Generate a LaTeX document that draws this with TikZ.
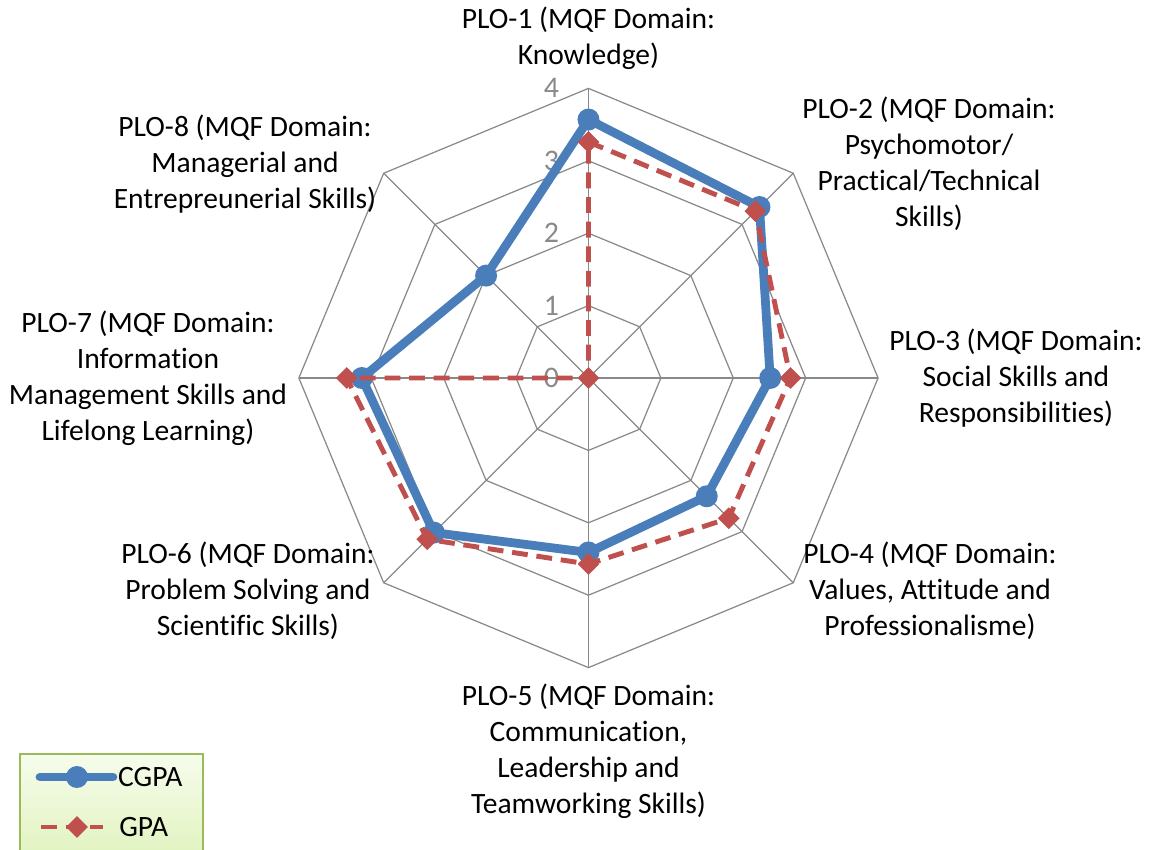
\documentclass[tikz,border=0pt]{standalone}
\usepackage{fontspec}
\setmainfont{Carlito}[Ligatures=NoCommon]
\usetikzlibrary{shapes.geometric}

\definecolor{gridgray}{HTML}{898989}
\definecolor{cgpablue}{HTML}{4A7EBB}
\definecolor{gpared}{HTML}{C0504D}
\definecolor{legendedge}{HTML}{9BBB59}
\definecolor{legendtop}{HTML}{F6FCEC}
\definecolor{legendbottom}{HTML}{DFF2BA}

\tikzset{
  plolabel/.style={align=center, font=\fontsize{16.8}{20.5}\selectfont},
  ticklabel/.style={font=\fontsize{17}{20.5}\selectfont, text=gridgray},
  gridline/.style={gridgray, line width=0.7pt},
  cgpaline/.style={cgpablue, line width=5pt, line join=round},
  gpaline/.style={gpared, line width=2.8pt, dash pattern=on 9pt off 5pt},
  cgpadot/.style={circle, fill=cgpablue, inner sep=0pt, minimum size=0.44cm},
  gpadiamond/.style={diamond, fill=gpared, inner sep=0pt, minimum size=0.44cm},
}

\begin{document}
\begin{tikzpicture}[x=1.448cm, y=1.448cm]
      \useasboundingbox (-8.128,-6.519) rectangle (7.742,5.221);
      \coordinate (o) at (0,0);

      % Draw the octagon rings and the spokes
      \foreach \r in {1,...,4}
      \draw[gridline] (90:\r) \foreach \a in {45,0,...,-225} {-- (\a:\r)} -- cycle;
      \foreach \a in {90,45,...,-225}
      \draw[gridline] (o) -- (\a:4);

      % Scale numbers on the PLO-1 spoke
      \foreach \r in {0,...,4}
      \node[ticklabel] (tick\r) at (-0.51,\r) {\r};

      % Scores per PLO: CGPA / GPA
      \foreach \k/\c/\g in {1/3.57/3.26, 2/3.34/3.26, 3/2.51/2.79, 4/2.31/2.74,
      5/2.41/2.57, 6/3.02/3.15, 7/3.13/3.34, 8/2.00/0}
      {
        \coordinate (c\k) at ({90-45*(\k-1)}:\c);
        \coordinate (g\k) at ({90-45*(\k-1)}:\g);
      }

      % CGPA polygon with round markers
      \draw[cgpaline] (c1) -- (c2) -- (c3) -- (c4) -- (c5) -- (c6) -- (c7) -- (c8) -- cycle;
      \foreach \k in {1,...,8}
      \node[cgpadot] (cgpa\k) at (c\k) {};

      % GPA polygon (dashed) with diamond markers
      \draw[gpaline] (g1) -- (g2) -- (g3) -- (g4) -- (g5) -- (g6) -- (g7) -- (g8) -- cycle;
      \foreach \k in {1,...,8}
      \node[gpadiamond] (gpa\k) at (g\k) {};

      % Add the PLO labels
      \node[plolabel] (plo1) at (0,4.696) {PLO-1 (MQF Domain:\\ Knowledge)};
      \node[plolabel] (plo2) at (4.703,2.956) {PLO-2 (MQF Domain:\\ Psychomotor/\\ Practical/Technical\\ Skills)};
      \node[plolabel] (plo3) at (5.905,0) {PLO-3 (MQF Domain:\\ Social Skills and\\ Responsibilities)};
      \node[plolabel] (plo4) at (4.717,-2.942) {PLO-4 (MQF Domain:\\ Values, Attitude and\\ Professionalisme)};
      \node[plolabel] (plo5) at (0,-5.159) {PLO-5 (MQF Domain:\\ Communication,\\ Leadership and\\ Teamworking Skills)};
      \node[plolabel] (plo6) at (-4.703,-2.942) {PLO-6 (MQF Domain:\\ Problem Solving and\\ Scientific Skills)};
      \node[plolabel] (plo7) at (-6.084,0) {PLO-7 (MQF Domain:\\ Information\\ Management Skills and\\ Lifelong Learning)};
      \node[plolabel] (plo8) at (-4.744,2.956) {PLO-8 (MQF Domain:\\ Managerial and\\ Entrepreunerial Skills)};

      % Legend box
      \draw[legendedge, line width=1.2pt, top color=legendtop, bottom color=legendbottom]
      (-7.852,-5.193) rectangle (-5.325,-6.8);
      \coordinate (cgpaL) at (-7.576,-5.511);
      \coordinate (cgpaR) at (-6.568,-5.511);
      \draw[cgpaline, line cap=round] (cgpaL) -- (cgpaR);
      \node[cgpadot] (cgpakey) at (-7.065,-5.511) {};
      \node[plolabel, anchor=west, inner sep=0pt] (cgpatext) at (-6.50,-5.511) {CGPA};
      \coordinate (gpaL) at (-7.56,-6.202);
      \coordinate (gpaR) at (-6.70,-6.202);
      \draw[gpaline] (gpaL) -- (gpaR);
      \node[gpadiamond] (gpakey) at (-7.065,-6.202) {};
      \node[plolabel, anchor=west, inner sep=0pt] (gpatext) at (-6.485,-6.202) {GPA};
    \end{tikzpicture}
\end{document}
